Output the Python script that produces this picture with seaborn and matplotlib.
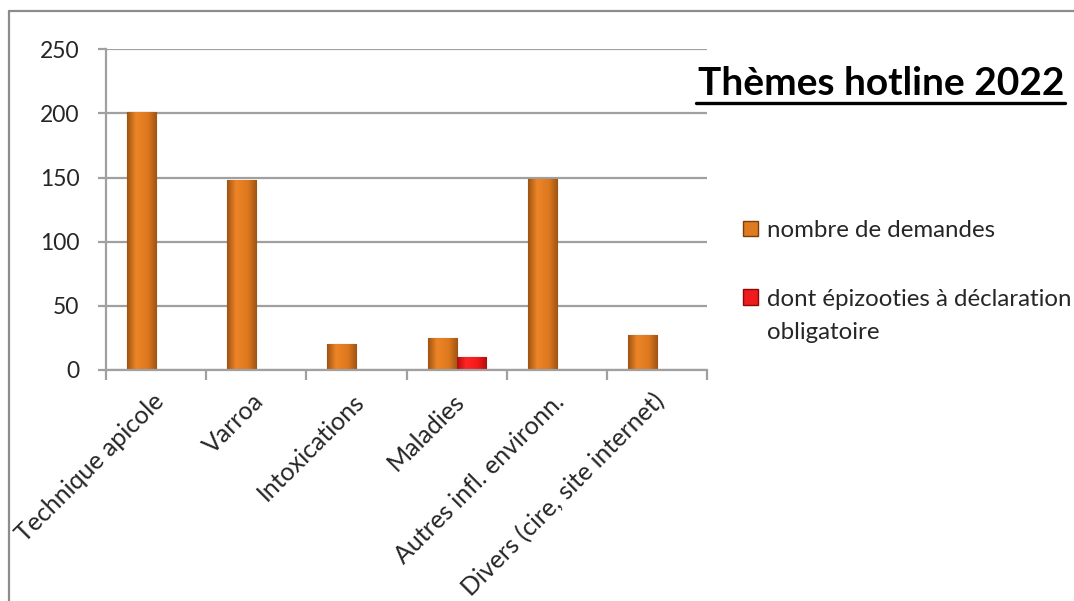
import numpy as np
import pandas as pd
import matplotlib
matplotlib.use("Agg")
import matplotlib.pyplot as plt
import seaborn as sns
from matplotlib.lines import Line2D
from matplotlib.patches import Rectangle
from matplotlib.legend_handler import HandlerPatch

categories = ["Technique apicole", "Varroa", "Intoxications", "Maladies",
              "Autres infl. environn.", "Divers (cire, site internet)"]
demandes = [201, 148, 20, 25, 149, 27]
epizooties = [np.nan, np.nan, np.nan, 10, np.nan, np.nan]
series_names = ["nombre de demandes", "dont épizooties à déclaration\nobligatoire"]
y_ticks = [0, 50, 100, 150, 200, 250]
title = "Thèmes hotline 2022"

df = pd.DataFrame({
    "cat": categories * 2,
    "serie": [series_names[0]] * len(categories) + [series_names[1]] * len(categories),
    "val": demandes + epizooties,
})

sns.set_theme(style="white")
plt.rcParams["font.family"] = ["Lato", "DejaVu Sans"]

fig = plt.figure(figsize=(10.74, 6.01), dpi=100)
ax = fig.add_axes([0.0987, 0.3844, 0.5596, 0.5335])

orange = "#DE7A22"
red = "#EE1C1C"
sns.barplot(data=df, x="cat", y="val", hue="serie", order=categories,
            hue_order=series_names, palette=[orange, red], width=0.58,
            ax=ax, legend=False, saturation=1)

# bevel-like shading on bars
for p in ax.patches:
    h = p.get_height()
    if not np.isfinite(h) or h <= 0:
        continue
    fc = p.get_facecolor()
    is_red = fc[0] > 0.85 and fc[1] < 0.3
    x0, y0 = p.get_x(), p.get_y()
    w = p.get_width()
    if is_red:
        cols = [(0.70, 0.05, 0.05), (1.0, 0.15, 0.15), (0.95, 0.10, 0.10), (0.70, 0.05, 0.05)]
        edge = "#8A0A0A"
    else:
        cols = [(0.62, 0.33, 0.08), (0.93, 0.52, 0.15), (0.87, 0.47, 0.12), (0.62, 0.33, 0.08)]
        edge = "#7A400C"
    grad = np.array([np.interp(np.linspace(0, 1, 64), [0, 0.3, 0.7, 1], [c[i] for c in cols])
                     for i in range(3)]).T[None, :, :]
    im = ax.imshow(grad, extent=[x0, x0 + w, y0, y0 + h], aspect="auto", zorder=p.get_zorder() + 0.1)
    im.set_clip_path(p)
    p.set_edgecolor(edge)
    p.set_linewidth(0.8)

ax.set_xlim(-0.5, len(categories) - 0.5)
ax.set_ylim(0, 250)
ax.set_yticks(y_ticks)
ax.set_yticklabels([str(t) for t in y_ticks])
ax.set_xlabel("")
ax.set_ylabel("")

grid_c = "#A0A0A0"
ax.yaxis.grid(True, color=grid_c, linewidth=1.6)
ax.set_axisbelow(True)
for s in ["top", "right"]:
    ax.spines[s].set_visible(False)
for s in ["left", "bottom"]:
    ax.spines[s].set_color(grid_c)
    ax.spines[s].set_linewidth(1.6)

# x ticks at category boundaries, labels at centers
ax.set_xticks(np.arange(len(categories)))
ax.set_xticklabels(categories, rotation=45, ha="right", va="center",
                   rotation_mode="anchor", fontsize=18)
ax.tick_params(axis="x", which="major", length=0, pad=20)
ax.set_xticks(np.arange(-0.5, len(categories)), minor=True)
ax.tick_params(axis="x", which="minor", length=7, width=1.6, color=grid_c, direction="out", bottom=True)
ax.tick_params(axis="y", length=6, width=1.6, color=grid_c, direction="out", left=True, pad=13, labelsize=16.5)
for lbl in ax.get_xticklabels():
    lbl.set_transform(lbl.get_transform() + matplotlib.transforms.ScaledTranslation(4 / 100, 0, fig.dpi_scale_trans))

# title
fig.text(0.6495, 0.842, title, fontsize=28, fontweight="bold", color="black", ha="left", va="baseline")
fig.add_artist(Line2D([0.6485, 0.992], [0.829, 0.829], color="black", linewidth=2.4))


# legend (marker aligned with first text line)
class ShiftedHandler(HandlerPatch):
    def __init__(self, shift=0.0, **kw):
        super().__init__(**kw)
        self.shift = shift

    def create_artists(self, legend, orig_handle, xdescent, ydescent, width, height, fontsize, trans):
        r = Rectangle((-xdescent, -ydescent + self.shift * fontsize), width, height,
                      facecolor=orig_handle.get_facecolor(), edgecolor=orig_handle.get_edgecolor(),
                      linewidth=1.0, transform=trans)
        return [r]


h1 = Rectangle((0, 0), 1, 1, facecolor=orange, edgecolor="#7A400C")
h2 = Rectangle((0, 0), 1, 1, facecolor=red, edgecolor="#8A0A0A")
leg = fig.legend([h1, h2], series_names, loc="upper left", bbox_to_anchor=(0.6825, 0.65),
                 frameon=False, fontsize=17.3, handlelength=0.64, handleheight=0.64,
                 handletextpad=0.38, labelspacing=2.0, borderaxespad=0,
                 handler_map={h1: ShiftedHandler(0.0), h2: ShiftedHandler(0.8)})
for t in leg.get_texts():
    t.set_linespacing(1.7)

# outer frame
fig.add_artist(Line2D([0.0088, 0.0088], [0.0, 0.982], color="#8C8C8C", linewidth=1.6))
fig.add_artist(Line2D([0.0088, 1.0], [0.982, 0.982], color="#8C8C8C", linewidth=1.6))

fig.savefig("out.png", dpi=100)
